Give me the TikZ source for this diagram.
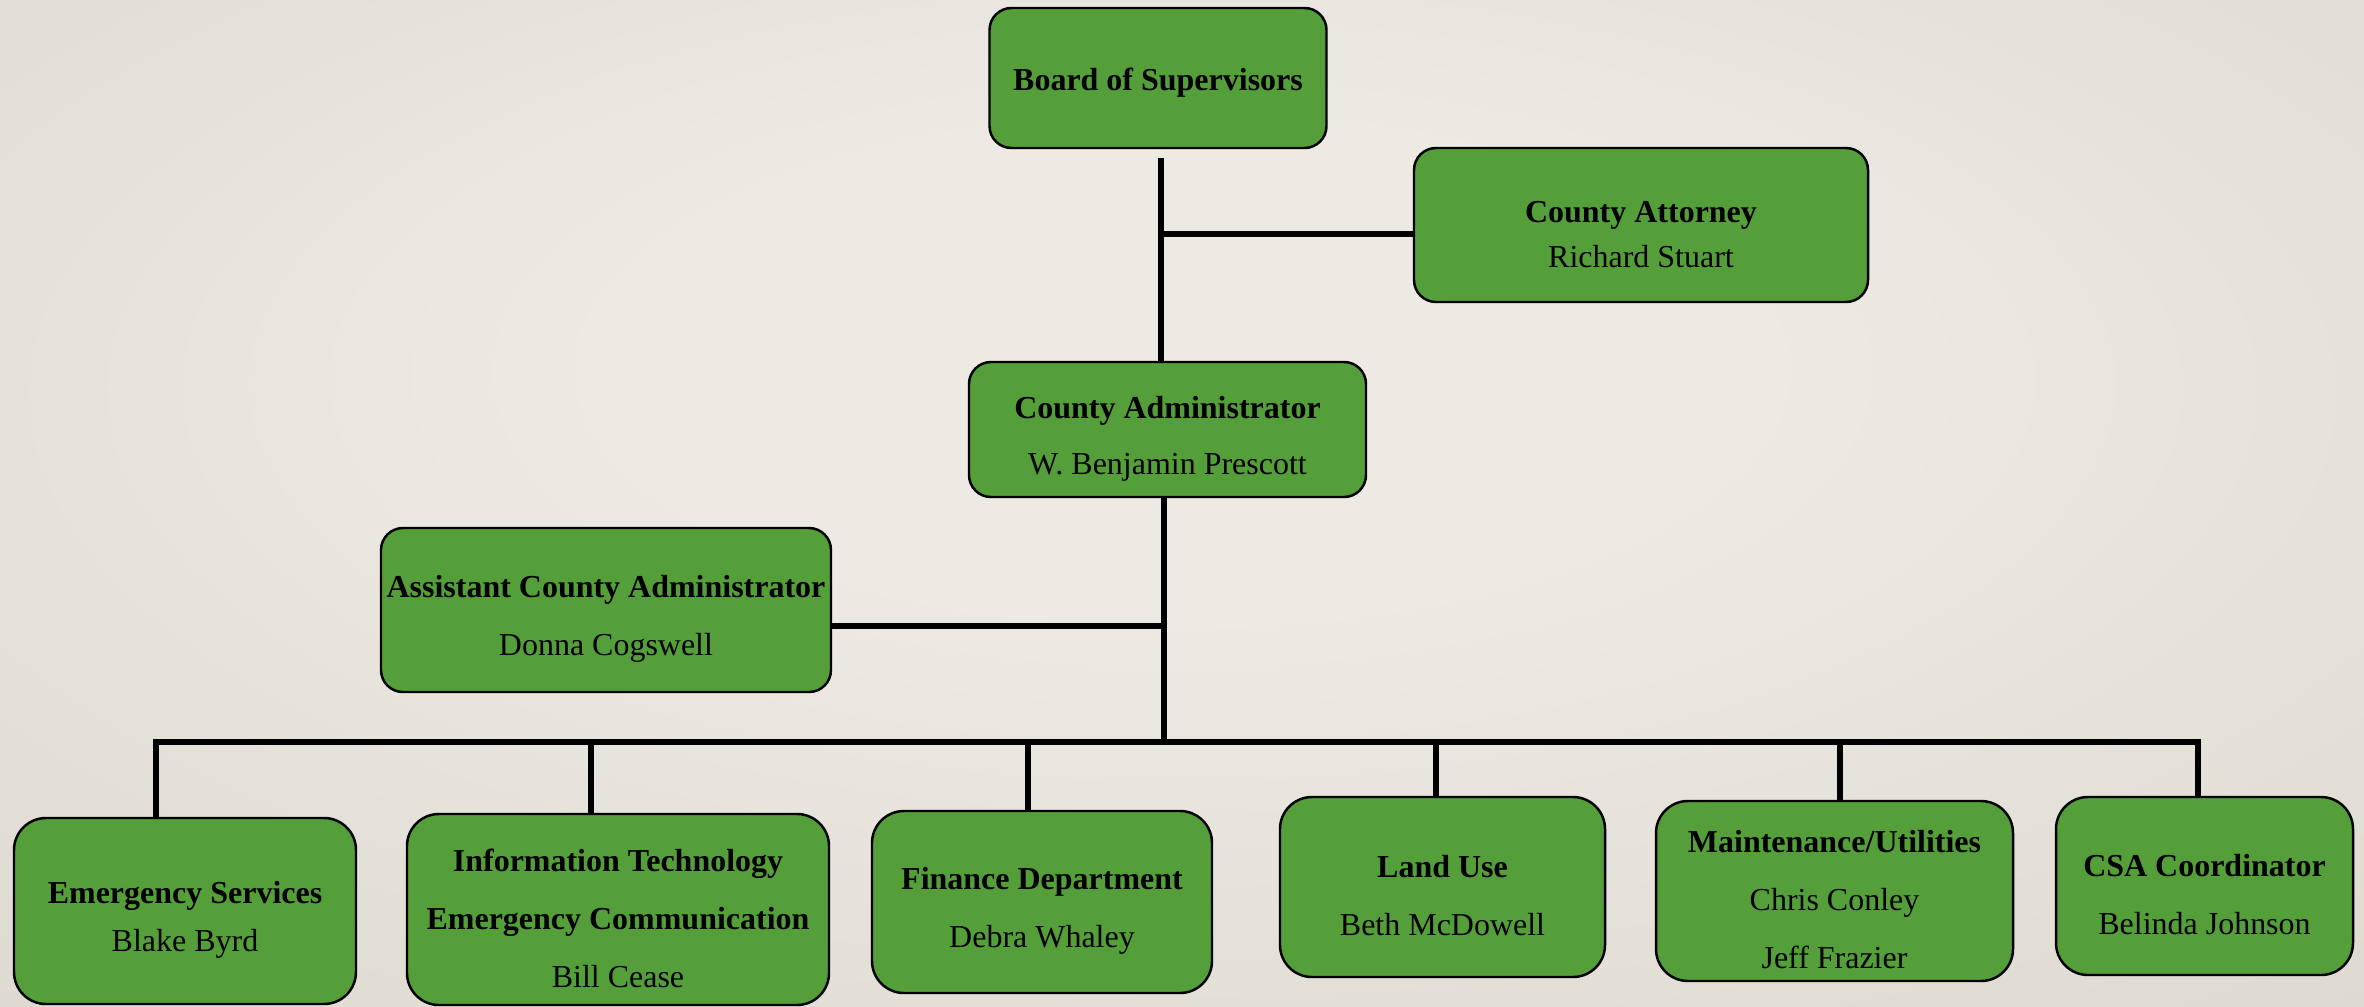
\documentclass[tikz,border=0pt]{standalone}
\usepackage{fontspec}
\setmainfont{Liberation Serif}
\usetikzlibrary{positioning}
\definecolor{unitgreen}{RGB}{84,159,58}
\definecolor{bglight}{RGB}{237,234,228}
\definecolor{bgmid}{RGB}{215,211,201}
\definecolor{bgdark}{RGB}{208,204,193}
\pgfdeclareradialshading{paper}{\pgfpoint{0bp}{8bp}}{color(0bp)=(bglight); color(12bp)=(bglight); color(50bp)=(bgmid); color(75bp)=(bgdark)}
\newcommand{\unittitle}[2][0.4cm]{\rule{0pt}{#1}\textbf{#2}}

\begin{document}
\begin{tikzpicture}[
        unit/.style={draw, rectangle, rounded corners=0.22cm, fill=unitgreen, line width=0.7pt, align=center, inner sep=0pt, font=\fontsize{9.1}{16.5}\selectfont},
        dept/.style={unit, rounded corners=0.32cm},
        link/.style={line width=1.6pt}
    ]
                % Background
                \useasboundingbox (0,0) rectangle (23.64,10.06);
                \shade[shading=paper] (0,0) rectangle (23.64,10.06);

                % Top level
                \node[unit, minimum width=3.37cm, minimum height=1.40cm] (board) at (11.58, 9.28) {\unittitle[0.31cm]{Board of Supervisors}};
                \node[unit, minimum width=4.54cm, minimum height=1.54cm] (attorney) at (16.41, 7.81) {\unittitle{County Attorney}\\[-0.13cm] Richard Stuart};
                \node[unit, minimum width=3.97cm, minimum height=1.35cm] (admin) at (11.675, 5.765) {\unittitle{County Administrator}\\[-0.02cm] W. Benjamin Prescott};
                \node[unit, minimum width=4.50cm, minimum height=1.64cm] (assistant) at (6.06, 3.96) {\unittitle{Assistant County Administrator}\\ Donna Cogswell};

                % Departments
                \node[dept, minimum width=3.42cm, minimum height=1.86cm] (es) at (1.85, 0.95) {\unittitle{Emergency Services}\\[-0.10cm] Blake Byrd};
                \node[dept, minimum width=4.22cm, minimum height=1.91cm] (it) at (6.18, 0.965) {\unittitle{Information Technology}\\ \textbf{Emergency Communication}\\ Bill Cease};
                \node[dept, minimum width=3.40cm, minimum height=1.82cm] (finance) at (10.42, 1.04) {\unittitle{Finance Department}\\ Debra Whaley};
                \node[dept, minimum width=3.25cm, minimum height=1.80cm] (landuse) at (14.425, 1.19) {\unittitle{Land Use}\\ Beth McDowell};
                \node[dept, minimum width=3.57cm, minimum height=1.80cm] (maint) at (18.345, 1.15) {\unittitle{Maintenance/Utilities}\\ Chris Conley\\ Jeff Frazier};
                \node[dept, minimum width=2.97cm, minimum height=1.78cm] (csa) at (22.045, 1.20) {\unittitle{CSA Coordinator}\\ Belinda Johnson};

                % Lines
                \coordinate (tee1) at (11.61, 7.72);
                \coordinate (tee2) at (11.64, 3.80);
                \coordinate (bus) at (11.64, 2.64);
                \draw[link] ([xshift=0.03cm, yshift=-0.09cm]board.south) -- ([xshift=0.03cm]board.south |- admin.north);
                \draw[link] (tee1) -- (tee1 -| attorney.west);
                \draw[link] (admin.south -| bus) -- (bus);
                \draw[link] (assistant.east |- tee2) -- (tee2);
                \draw[link, line width=1.9pt] ([xshift=-2.9mm]es.north) |- (bus) -| ([xshift=-0.65mm]csa.north);
                \foreach \unit/\shift in {it/-2.7mm, finance/-1.4mm, landuse/-0.65mm, maint/0.55mm}
                    \draw[link] ([xshift=\shift]\unit.north |- bus) -- ([xshift=\shift]\unit.north);

\end{tikzpicture}
\end{document}
